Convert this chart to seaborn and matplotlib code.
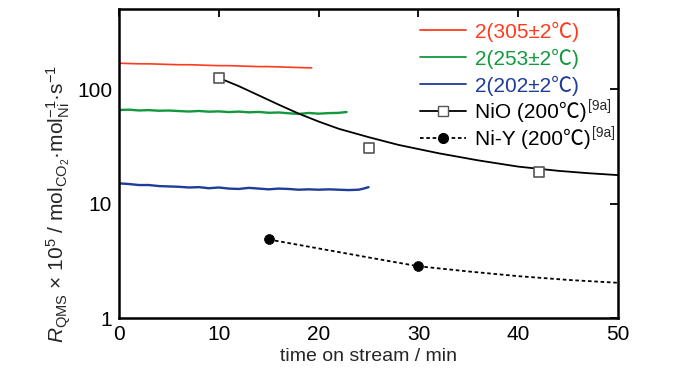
import numpy as np
import pandas as pd
import seaborn as sns
import matplotlib
matplotlib.use("Agg")
import matplotlib.pyplot as plt
from matplotlib.lines import Line2D
from matplotlib.ticker import FixedLocator, FixedFormatter, NullLocator

# --- data ---
t_305 = [0, 1, 2, 3, 4, 5, 6, 7, 8, 9, 10, 11, 12, 13, 14, 15, 16, 17, 18, 19.3]
r_305 = [168, 167, 166, 166, 165, 164, 163, 163, 162, 161, 160, 160, 159, 158, 157, 157, 156, 155, 154, 153]

t_253 = [0, 1, 2, 3, 4, 5, 6, 7, 8, 9, 10, 11, 12, 13, 14, 15, 16, 17, 18, 19, 20, 21, 22, 22.8]
r_253 = [65.6, 66.0, 65.0, 65.4, 64.6, 64.9, 64.2, 63.6, 64.3, 63.4, 63.8, 62.9, 63.5, 62.6, 63.1, 62.0,
         62.4, 61.4, 60.6, 61.8, 60.9, 61.6, 61.9, 63.0]

t_202 = [0, 1, 2, 3, 4, 5, 6, 7, 8, 9, 10, 11, 12, 13, 14, 15, 16, 17, 18, 19, 20, 21, 22, 23, 24, 24.5, 25]
r_202 = [15.0, 14.8, 14.5, 14.5, 14.2, 14.1, 14.0, 13.8, 13.9, 13.6, 13.8, 13.5, 13.4, 13.7, 13.5, 13.3,
         13.5, 13.4, 13.2, 13.3, 13.2, 13.3, 13.2, 13.1, 13.2, 13.5, 13.9]

nio_t = [10, 25, 42.1]
nio_r = [125, 30.7, 18.8]
nio_fit_t = [10, 12, 14, 16, 18, 20, 22, 25, 28, 32, 36, 40, 44, 47, 50]
nio_fit_r = [125, 106, 88, 73, 61, 52, 45, 38, 32.5, 27.5, 23.8, 21.0, 19.3, 18.4, 17.7]

niy_t = [15, 30]
niy_r = [4.85, 2.83]
niy_fit_t = [15, 20, 25, 30, 35, 40, 45, 50]
niy_fit_r = [4.85, 4.05, 3.38, 2.83, 2.55, 2.32, 2.15, 2.03]

labels = ["2(305±2℃)", "2(253±2℃)", "2(202±2℃)", "NiO (200℃)", "Ni-Y (200℃)"]
c_red, c_green, c_blue = "#ff3b1f", "#13993d", "#1f3c98"

sns.set_theme(style="white")
fam = ["Liberation Sans", "Noto Sans CJK JP", "DejaVu Sans"]
plt.rcParams["font.family"] = fam
plt.rcParams["mathtext.fontset"] = "custom"
plt.rcParams["mathtext.rm"] = "Liberation Sans"
plt.rcParams["mathtext.it"] = "Liberation Sans:italic"
plt.rcParams["mathtext.bf"] = "Liberation Sans:bold"

fig = plt.figure(figsize=(7, 3.75), dpi=100)
ax = fig.add_axes([0.170, 0.152, 0.713, 0.824])

sns.lineplot(x=t_305, y=r_305, ax=ax, color=c_red, lw=1.2)
sns.lineplot(x=t_253, y=r_253, ax=ax, color=c_green, lw=1.7)
sns.lineplot(x=t_202, y=r_202, ax=ax, color=c_blue, lw=1.7)
sns.lineplot(x=nio_fit_t, y=nio_fit_r, ax=ax, color="black", lw=1.3)
sns.lineplot(x=niy_fit_t, y=niy_fit_r, ax=ax, color="black", lw=1.3, linestyle=(0, (2, 1.5)))
sns.scatterplot(x=nio_t, y=nio_r, ax=ax, marker="s", s=45, facecolor="white",
                edgecolor="#555555", linewidth=1.2, zorder=5)
sns.scatterplot(x=niy_t, y=niy_r, ax=ax, marker="o", s=50, color="black",
                edgecolor="black", zorder=5)

ax.set_yscale("log")
ax.set_xlim(0, 50)
ax.set_ylim(1, 500)
ax.xaxis.set_major_locator(FixedLocator([0, 10, 20, 30, 40, 50]))
ax.yaxis.set_major_locator(FixedLocator([1, 10, 100]))
ax.yaxis.set_major_formatter(FixedFormatter(["1", "10", "100"]))
ax.yaxis.set_minor_locator(NullLocator())
ax.tick_params(which="major", direction="in", length=6, width=1.3, top=True, right=True,
               labelsize=15, colors="black", pad=5)
for s in ax.spines.values():
    s.set_linewidth(1.8)
    s.set_color("black")

ax.set_xlabel("time on stream / min", fontsize=14, labelpad=3)
ax.set_ylabel(r"$R_{\mathrm{QMS}}$ $\times$ 10$^{5}$ / mol$_{\mathrm{CO_2}}$·mol$^{-1}_{\mathrm{Ni}}$·s$^{-1}$",
              fontsize=15)
ax.yaxis.set_label_coords(-0.092, 0.37)

handles = [
    Line2D([], [], color=c_red, lw=1.3),
    Line2D([], [], color=c_green, lw=1.3),
    Line2D([], [], color=c_blue, lw=1.3),
    Line2D([], [], color="black", lw=1.3, marker="s", markersize=7, markerfacecolor="white",
           markeredgecolor="#555555"),
    Line2D([], [], color="black", lw=1.3, linestyle=(0, (2, 1.5)), marker="o", markersize=7),
]
leg = ax.legend(handles, labels, loc="upper left", bbox_to_anchor=(0.565, 1.02), frameon=False,
                fontsize=15, handlelength=2.2, handletextpad=0.45, labelspacing=0.32)
for txt, col in zip(leg.get_texts(), [c_red, c_green, c_blue, "black", "black"]):
    txt.set_color(col)

fig.canvas.draw()
inv = fig.transFigure.inverted()
for txt in leg.get_texts()[3:]:
    bb = txt.get_window_extent()
    x0, y0 = inv.transform((bb.x1 + 1, bb.y1 - 4))
    fig.text(x0, y0, "[9a]", fontsize=10, ha="left", va="center")

fig.savefig("out.png", dpi=100)
